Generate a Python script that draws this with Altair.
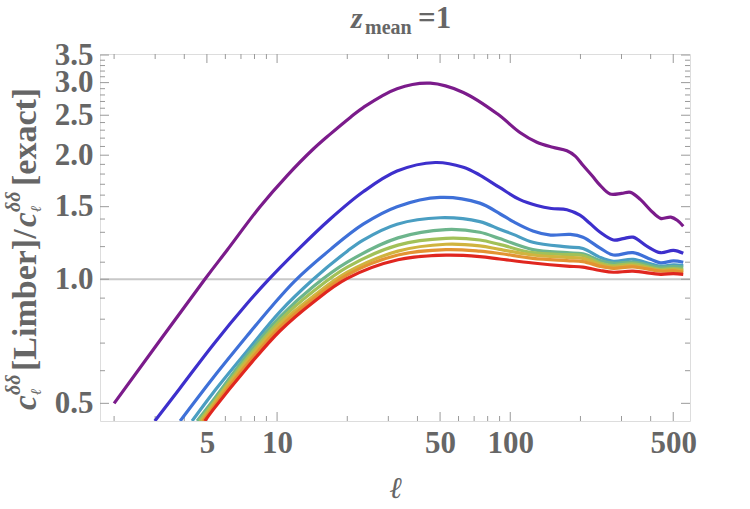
import altair as alt
import pandas as pd

# ---- data (ell, ratio) ----
ELL_1 = [2.0, 4.9, 6.1, 8.45, 11.0, 14.3, 16.9, 20.6, 23.4, 32.7, 45.4, 62.9, 88, 110, 130, 152, 175, 190, 205, 225, 243, 268, 300, 328, 362, 400, 441, 488, 520, 552]
VAL_1 = [0.50, 1.0, 1.176, 1.50, 1.78, 2.07, 2.25, 2.47, 2.61, 2.90, 2.99, 2.84, 2.52, 2.27, 2.15, 2.09, 2.05, 1.99, 1.89, 1.78, 1.69, 1.61, 1.615, 1.625, 1.56, 1.47, 1.405, 1.415, 1.39, 1.345]

ELL_2 = [2.99, 3.84, 5.31, 7.44, 9.15, 12.2, 16.9, 23.4, 32.7, 47.7, 62.9, 74, 90, 110, 130, 150, 175, 199, 220, 243, 277, 305, 336, 388, 441, 501, 552]
VAL_2 = [0.453, 0.545, 0.693, 0.873, 0.995, 1.175, 1.40, 1.63, 1.83, 1.92, 1.87, 1.79, 1.67, 1.56, 1.51, 1.485, 1.475, 1.43, 1.365, 1.30, 1.245, 1.255, 1.265, 1.20, 1.16, 1.175, 1.156]

ELL_3 = [3.84, 5.31, 7.44, 9.5, 11.9, 16.9, 23.4, 32.7, 50, 74, 90.6, 103, 125, 149, 181, 205, 243, 277, 336, 400, 441, 501, 552]
VAL_3 = [0.453, 0.576, 0.729, 0.86, 0.99, 1.18, 1.36, 1.50, 1.58, 1.53, 1.44, 1.38, 1.31, 1.28, 1.285, 1.265, 1.19, 1.145, 1.16, 1.118, 1.096, 1.108, 1.10]

ELL_4 = [4.32, 5.31, 7.44, 10.3, 14.3, 20, 23.4, 32.7, 50, 74, 90.6, 103, 125, 175, 205, 243, 277, 336, 400, 441, 501, 552]
VAL_4 = [0.453, 0.53, 0.67, 0.835, 1.0, 1.17, 1.245, 1.36, 1.41, 1.38, 1.32, 1.285, 1.23, 1.198, 1.188, 1.13, 1.106, 1.118, 1.09, 1.076, 1.084, 1.08]

ELL_B = [5.31, 7.44, 10.3, 14.3, 20, 33, 53, 74, 90, 125, 175, 205, 243, 277, 336, 441, 501, 552]
VAL_5 = [0.508, 0.655, 0.81, 0.96, 1.10, 1.26, 1.32, 1.30, 1.255, 1.18, 1.16, 1.152, 1.11, 1.094, 1.10, 1.07, 1.075, 1.07]
VAL_6 = [0.50, 0.643, 0.795, 0.935, 1.07, 1.21, 1.257, 1.245, 1.215, 1.16, 1.148, 1.142, 1.095, 1.08, 1.09, 1.057, 1.062, 1.057]
VAL_7 = [0.495, 0.633, 0.78, 0.91, 1.04, 1.17, 1.216, 1.205, 1.182, 1.145, 1.13, 1.124, 1.085, 1.07, 1.08, 1.05, 1.054, 1.048]
VAL_8 = [0.488, 0.622, 0.765, 0.895, 1.025, 1.145, 1.18, 1.17, 1.155, 1.124, 1.11, 1.104, 1.075, 1.063, 1.072, 1.046, 1.048, 1.04]
VAL_9 = [0.482, 0.61, 0.75, 0.88, 1.005, 1.115, 1.144, 1.135, 1.12, 1.095, 1.076, 1.07, 1.05, 1.04, 1.046, 1.028, 1.032, 1.028]
START_B = [4.54, 4.65, 4.75, 4.82, 4.9]   # where curves 5..9 leave the bottom frame

COLORS = ["#7b1b8b", "#3d2fcc", "#3e70d8", "#4a9ec2", "#6db58c", "#a2c158", "#d0b43f", "#e39332", "#e0261f"]

X_TICKS_MAJOR = [5, 10, 50, 100, 500]
X_TICKS_MINOR = [2, 3, 4, 6, 7, 8, 9, 20, 30, 40, 60, 70, 80, 90, 200, 300, 400]
Y_LABELS = [0.5, 1.0, 1.5, 2.0, 2.5, 3.0, 3.5]
Y_TICKS_MINOR = [0.6, 0.7, 0.8, 0.9, 1.1, 1.2, 1.3, 1.4, 1.6, 1.7, 1.8, 1.9,
                 2.1, 2.2, 2.3, 2.4, 2.6, 2.7, 2.8, 2.9, 3.1, 3.2, 3.3, 3.4]

# ---- build table ----
rows = []
series_list = [(ELL_1, VAL_1), (ELL_2, VAL_2), (ELL_3, VAL_3), (ELL_4, VAL_4)]
for v, s in zip([VAL_5, VAL_6, VAL_7, VAL_8, VAL_9], START_B):
    series_list.append(([s] + ELL_B, [0.453] + v))
for i, (ls, vs) in enumerate(series_list):
    for j, (l, v) in enumerate(zip(ls, vs)):
        rows.append({"ell": l, "val": v, "s": f"s{i+1}", "o": j})
df = pd.DataFrame(rows)

W, H = 590, 367
FONT = "Liberation Serif"
GRAY = "#666666"
xscale = alt.Scale(type="log", domain=[1.74, 590], nice=False)
yscale = alt.Scale(type="log", domain=[0.453, 3.52], nice=False)

xaxis = alt.Axis(values=X_TICKS_MAJOR, format="d", domain=False, ticks=False, grid=False,
                 labelFont=FONT, labelFontWeight="bold", labelFontSize=31, labelColor=GRAY,
                 labelPadding=7, labelOverlap=False, labelFlush=False,
                 titleFont=FONT, titleFontStyle="italic", titleFontWeight="normal",
                 titleFontSize=30, titleColor=GRAY, titleY=76, titleBaseline="alphabetic")
yaxis = alt.Axis(values=Y_LABELS, format=".1f", domain=False, ticks=False, grid=False,
                 labelFont=FONT, labelFontWeight="bold", labelFontSize=31, labelColor=GRAY,
                 labelPadding=7, labelOverlap=False, labelFlush=False, title=None)

X = lambda: alt.X("ell:Q", scale=xscale, axis=xaxis, title="ℓ")
Y = lambda: alt.Y("val:Q", scale=yscale, axis=yaxis, title=None)

lines = alt.Chart(df).mark_line(strokeWidth=3.2, clip=True, interpolate="catmull-rom").encode(
    x=X(), y=Y(),
    color=alt.Color("s:N", scale=alt.Scale(domain=[f"s{i+1}" for i in range(9)], range=COLORS), legend=None),
    order="o:Q",
)

one = alt.Chart(pd.DataFrame({"val": [1.0]})).mark_rule(color="#c8c8c8", strokeWidth=2).encode(y=Y())

tick_color = "#9a9a9a"
xt_major = pd.DataFrame({"ell": X_TICKS_MAJOR})
xt_minor = pd.DataFrame({"ell": X_TICKS_MINOR})
yt_major = pd.DataFrame({"val": Y_LABELS})
yt_minor = pd.DataFrame({"val": Y_TICKS_MINOR})

def xt(data, ln):
    b = alt.Chart(data).mark_rule(color=tick_color, strokeWidth=1).encode(x=X(), y=alt.value(H), y2=alt.value(H - ln))
    t = alt.Chart(data).mark_rule(color=tick_color, strokeWidth=1).encode(x=X(), y=alt.value(0), y2=alt.value(ln))
    return b + t

def yt(data, ln):
    l = alt.Chart(data).mark_rule(color=tick_color, strokeWidth=1).encode(y=Y(), x=alt.value(0), x2=alt.value(ln))
    r = alt.Chart(data).mark_rule(color=tick_color, strokeWidth=1).encode(y=Y(), x=alt.value(W), x2=alt.value(W - ln))
    return l + r

dummy = pd.DataFrame({"a": [0]})

def txt(s, x, y, size, style="normal", weight="bold", angle=0):
    return alt.Chart(dummy).mark_text(text=s, font=FONT, fontSize=size, fontStyle=style,
                                      fontWeight=weight, color=GRAY, align="left",
                                      baseline="alphabetic", angle=angle).encode(
        x=alt.value(x), y=alt.value(y))

# title  z_mean = 1
title = (txt("z", 251, -26, 30, "italic") + txt("mean", 265, -20, 20) + txt("=1", 318, -26, 31))

# y-axis title  c_l^dd [Limber] / c_l^dd [exact]
bx = -64
ytitle = (txt("c", bx, 356, 33, "italic", angle=270)
          + txt("δδ", bx - 16, 341, 20, "italic", angle=270)
          + txt("ℓ", bx + 5, 341, 15, "italic", angle=270)
          + txt("[Limber]/", bx, 317, 34, angle=270)
          + txt("c", bx, 173, 33, "italic", angle=270)
          + txt("δδ", bx - 16, 158, 20, "italic", angle=270)
          + txt("ℓ", bx + 5, 158, 15, "italic", angle=270)
          + txt("[exact]", bx, 132, 34, angle=270))

chart = alt.layer(
    one, xt(xt_minor, 5), xt(xt_major, 9), yt(yt_minor, 5), yt(yt_major, 9), lines, title, ytitle
).properties(
    width=W, height=H,
    autosize=alt.AutoSizeParams(type="none"),
    padding={"left": 100, "top": 54, "right": 60, "bottom": 88},
).configure_view(stroke="#8f8f8f", strokeWidth=1.3).configure(background="white")

chart.save("out.html", embed_options={"renderer": "svg", "actions": False})
